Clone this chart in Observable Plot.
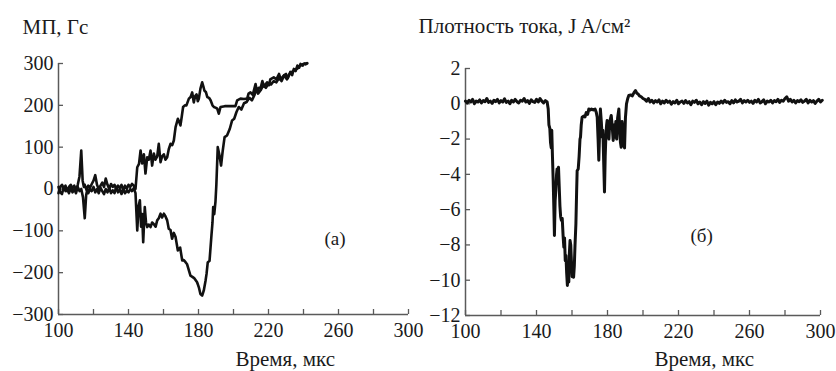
<!DOCTYPE html>
<html><head><meta charset="utf-8">
<script src="https://cdn.jsdelivr.net/npm/d3@7"></script>
<script src="https://cdn.jsdelivr.net/npm/@observablehq/plot@0.6"></script>
<style>
body{margin:0;background:#fff;}
#wrap{position:relative;width:836px;height:371px;overflow:hidden;background:#fff;}
#left{position:absolute;left:0;top:0;}
#right{position:absolute;left:416px;top:0;}
#wrap svg, #wrap svg text{font-family:"Liberation Serif","Times New Roman",serif !important;}
</style></head><body><div id="wrap"><div id="left"></div><div id="right"></div></div>
<script>
// ---- tick values ----
const timeTicks = [100,120,140,160,180,200,220,240,260,280,300];
const timeLabels = [100,140,180,220,260,300];
const magTicks = [-300,-200,-100,0,100,200,300];
const currentTicks = [-12,-10,-8,-6,-4,-2,0,2];

// ---- texts ----
const magTitle = "МП, Гс";
const currentTitle = "Плотность тока, J A/см²";
const timeTitle = "Время, мкс";
const magPanel = "(a)";
const currentPanel = "(б)";

// ---- magnetic field, upper trace [time µs, Gs] ----
const magUpper = [[100,-10],[101,5],[102,10],[103,0],[104,8],[105,-5],[106,5],[107,10],[108,2],[109,8],[110,-3],[111,10],[112,30],[113,92],[113.8,20],[114.5,5],[115,10],[116,-2],[117,8],[118,3],[119,12],[120,20],[121,33],[122,10],[123,0],[124,8],[125,15],[126,5],[127,25],[128,10],[129,0],[130,12],[131,5],[132,10],[133,0],[134,8],[135,2],[136,10],[137,-3],[138,8],[139,0],[140,10],[141,5],[142,12],[143,8],[144,0],
[145,52],[146,60],[146.9,92],[147.8,61],[148.8,83],[149.7,37],[150.7,76],[151.6,70],[152.6,92],[153.5,56],[154.5,85],[155.4,70],[156.4,78],[157.3,108],[158.3,64],[159.2,78],[160.2,83],[161.1,70],[162.1,76],[163,95],[164,108],[165,105],[165.9,116],[166.9,148],[168.2,168],[169,160],[169.7,152],[170.5,175],[171.2,196],[172.2,200],[173.1,200],[174.5,216],[175.5,220],[176.4,231],[177.3,207],[178.1,222],[178.9,226],[179.6,210],[180.2,216],[181.1,240],[182.1,255],[182.8,245],[183.4,235],[184.2,232],[185,220],[186,218],[186.9,212],[188,200],[188.8,196],[190,194],[190.7,192],[191.6,180],[192.6,196],[195,198],[198,198],[201.1,198],[202.1,212],[204,216],[206,215],[207.8,216],[208.6,228],[209.7,231],[211,225],[212.6,251],[213.5,232],[214.5,242],[215.4,240],[216.5,258],[217.5,245],[219.2,255],[220.3,248],[221,262],[223,267],[224.5,262],[226,275],[227,262],[228.7,271],[230,275],[231,265],[232.5,280],[233.5,272],[234.5,287],[235.5,282],[236.5,295],[237.5,290],[238.3,299],[239.5,295],[240.5,300],[241.3,298],[242.1,301]];

// ---- magnetic field, lower trace [time µs, Gs] ----
const magLower = [[100,5],[101,-8],[102,-12],[103,5],[104,-5],[105,0],[106,-10],[107,3],[108,-8],[109,0],[110,-10],[111,5],[112,-5],[113,0],[114,-20],[115,-70],[115.8,-15],[116.5,0],[117,-10],[118,0],[119,-5],[120,5],[121,-8],[122,0],[123,-10],[124,3],[125,-5],[126,-12],[127,0],[128,-8],[129,2],[130,-10],[131,-3],[132,-10],[133,5],[134,-8],[135,-2],[136,-12],[137,0],[138,-10],[139,-4],[140,-8],[141,0],[142,-5],[143,2],[144,-10],
[145,-99],[145.8,-40],[146.5,-27],[147.2,-90],[147.8,-60],[148.4,-127],[149.3,-43],[150,-80],[150.7,-91],[151.6,-85],[152.6,-91],[153.5,-80],[154.5,-84],[155.5,-90],[156.4,-75],[157.3,-70],[158.3,-59],[159.2,-68],[160.2,-59],[161.1,-65],[162.1,-75],[163,-95],[164,-98],[164.9,-119],[165.9,-105],[166.9,-115],[168.2,-147],[169.5,-140],[170.7,-171],[171.6,-170],[172.6,-175],[173.5,-180],[175.4,-207],[176.5,-210],[177.5,-213],[179.2,-223],[180.2,-235],[181.1,-251],[182.1,-255],[183,-243],[184,-220],[184.6,-203],[185.3,-175],[186.3,-172],[187.4,-111],[188,-80],[188.4,-43],[189,-60],[189.7,-30],[190.2,10],[191,100],[192,80],[192.9,56],[193.8,90],[194.9,124],[196.3,128],[197.9,144],[199.2,164],[200.4,168],[201.7,184],[203,196],[204.5,190],[206,205],[207.5,208],[209,218],[210.5,212],[212,225],[213,240],[214,228],[215.5,236],[217,248],[218.5,242],[220,252],[221.5,250],[223,258],[224.5,255],[226,265],[227.5,258],[229,272],[230.5,262],[232,275],[233.5,280],[235,285],[236.5,288],[238,295],[239.5,298],[241,300],[242.1,300]];

// ---- current density [time µs, A/cm²] ----
const current = [[100,0.15],[101,0.05],[102,0.2],[103,0.1],[104,0.25],[105,0],[106,0.15],[107,0.1],[108,0.22],[109,0.05],[110,0.18],[111,0.12],[112,0.3],[113,0.08],[114,0.15],[115,0.02],[116,0.2],[117,0.12],[118,0.25],[119,0.05],[120,0.18],[121,0.1],[122,0.28],[123,0.08],[124,0.15],[125,0],[126,0.2],[127,0.1],[128,0.25],[129,0.12],[130,0.05],[131,0.2],[132,0.15],[133,0.3],[134,0.1],[135,0.18],[136,0.02],[137,0.22],[138,0.12],[139,0.08],[140,0.25],[141,0.1],[142,0.3],[143,0.15],[144,0.05],[145,0.18],
[146,0.1],[146.6,-0.3],[147,-1.2],[147.5,-1.4],[147.9,-2.2],[148.3,-2.5],[148.6,-1.5],[149,-3],[149.4,-4.35],[149.8,-6],[150.1,-7.47],[150.5,-5.5],[150.9,-4.9],[151.3,-4],[151.6,-3.69],[152,-3.9],[152.4,-3.6],[152.8,-4.7],[153.2,-5.8],[153.6,-6.4],[154,-6.6],[154.5,-6.5],[155,-7.5],[155.4,-8.13],[155.8,-7.6],[156.2,-8.9],[156.6,-8.6],[157,-9.6],[157.4,-10.3],[157.8,-9.2],[158.2,-10.1],[158.5,-8.5],[158.9,-7.75],[159.3,-8],[159.7,-9],[160.1,-9.8],[160.5,-9.7],[160.9,-9.83],[161.3,-9.2],[161.7,-8],[162.2,-6.8],[162.6,-5],[162.9,-3.8],[163.5,-3.7],[164,-3],[164.5,-2],[164.8,-1.89],[165.2,-1.2],[165.7,-0.76],[166.5,-0.7],[167.3,-0.75],[168,-0.5],[168.8,-0.6],[169.5,-0.29],[170.3,-0.35],[171,-0.3],[172,-0.35],[173,-0.3],[173.7,-0.5],[174.2,-0.76],[174.7,-2],[175.1,-3.2],[175.5,-1.8],[176,-0.3],[176.5,-1],[177,-1.89],[177.4,-1.5],[177.9,-3.5],[178.3,-5],[178.7,-3],[179.1,-1.8],[179.5,-1.2],[179.8,-0.95],[180.3,-1.5],[180.8,-2],[181.3,-1],[182.1,-0.66],[182.6,-1.2],[183.2,-2.08],[183.7,-1.2],[184.2,-1.9],[184.7,-1],[185.2,-2],[185.7,-0.8],[186.4,-0.3],[186.9,-1.5],[187.3,-2.2],[187.7,-2.46],[188.2,-1],[188.7,-1.5],[189.1,-2.3],[189.6,-2.5],[190.1,-0.8],[190.7,0],[191.4,0.3],[192,0.47],[193,0.5],[194,0.45],[195,0.65],[195.8,0.75],[196.5,0.6],[197.3,0.55],[198,0.45],[199,0.4],[200,0.3],
[201,0.25],[202,0.15],[203,0.3],[204,0.1],[205,0.2],[206,0.05],[207,0.18],[208,0.1],[209,0.22],[210,0],[211,0.15],[212,0.05],[213,0.2],[214,0.08],[215,0.15],[216,-0.02],[217,0.12],[218,0.05],[219,0.2],[220,0],[221,0.1],[222,0.15],[223,0.02],[224,0.18],[225,0.05],[226,0.12],[227,-0.05],[228,0.15],[229,0.08],[230,0.2],[231,0],[232,0.1],[233,-0.05],[234,0.12],[235,0.02],[236,0.15],[237,-0.08],[238,0.08],[239,0],[240,0.12],[241,-0.05],[242,0.1],[243,0.02],[244,0.15],[245,0.05],[246,0.2],[247,0.08],[248,0.12],[249,0],[250,0.18],[251,0.05],[252,0.22],[253,0.1],[254,0.15],[255,0.25],[256,0.05],[257,0.18],[258,0.1],[259,0.2],[260,0.08],[261,0.15],[262,0.02],[263,0.2],[264,0.1],[265,0.25],[266,0.05],[267,0.12],[268,0.22],[269,0],[270,0.15],[271,0.1],[272,0.2],[273,0.05],[274,0.18],[275,0.12],[276,0.25],[277,0.08],[278,0.2],[279,0.15],[280,0.3],[281,0.4],[282,0.15],[283,0.25],[284,0.1],[285,0.2],[286,0.05],[287,0.18],[288,0.12],[289,0.22],[290,0.08],[291,0.15],[292,0.25],[293,0.05],[294,0.2],[295,0.1],[296,0.18],[297,0.02],[298,0.15],[299,0.25],[300,0.1],[301,0.2]];

const ink = "#1a1a1a", axisGray = "#5a5a5a";
const fmt = d => d < 0 ? "\u2212" + Math.abs(d) : String(d);
const font = "Liberation Serif";

function panel({data, lineWidth, yDomain, yTicks, ml, mr, mt, mb, width, title, titleDx, titleDy, xTitleDx, tag, tagX, tagY}) {
  const marks = [
    Plot.axisX(timeTicks, {tickSize: -5, stroke: axisGray, strokeWidth: 1.3, tickFormat: () => "", label: null}),
    Plot.axisX(timeLabels, {tickSize: 0, tickPadding: 8, fontSize: 20, fontFamily: font, fill: ink, tickFormat: fmt, label: null}),
    Plot.axisY(yTicks, {tickSize: -5, stroke: axisGray, strokeWidth: 1.3, tickFormat: () => "", label: null}),
    Plot.axisY(yTicks, {tickSize: 0, tickPadding: 5, fontSize: 20, fontFamily: font, fill: ink, tickFormat: fmt, label: null}),
    Plot.ruleX([100], {stroke: axisGray, strokeWidth: 1.5}),
    Plot.ruleY([yDomain[0]], {stroke: axisGray, strokeWidth: 1.5}),
    ...data.map(series => Plot.line(series, {x: d => d[0], y: d => d[1], stroke: "#111", strokeWidth: lineWidth, clip: false})),
    Plot.text([title], {frameAnchor: "top-left", text: d => d, textAnchor: "start", lineAnchor: "bottom", dx: titleDx, dy: titleDy, fontSize: 21, fontFamily: font, fill: ink}),
    Plot.text([timeTitle], {frameAnchor: "bottom-left", text: d => d, textAnchor: "start", lineAnchor: "bottom", dx: xTitleDx, dy: mb - 6, fontSize: 21, fontFamily: font, fill: ink}),
    Plot.text([tag], {x: tagX, y: tagY, text: d => d, fontSize: 19, fontFamily: font, fill: ink})
  ];
  return Plot.plot({
    width, height: 371,
    marginLeft: ml, marginRight: mr, marginTop: mt, marginBottom: mb,
    x: {domain: [100, 300]},
    y: {domain: yDomain},
    style: {fontFamily: font, background: "transparent", overflow: "visible", color: ink},
    marks
  });
}

document.getElementById("left").append(panel({
  data: [magUpper, magLower], lineWidth: 2.6, yDomain: [-300, 300], yTicks: magTicks,
  ml: 58, mr: 8, mt: 63, mb: 57, width: 416,
  title: magTitle, titleDx: -36, titleDy: -30, xTitleDx: 177,
  tag: magPanel, tagX: 258, tagY: -120
}));
document.getElementById("right").append(panel({
  data: [current], lineWidth: 3, yDomain: [-12, 2], yTicks: currentTicks,
  ml: 49, mr: 16, mt: 68, mb: 56, width: 420,
  title: currentTitle, titleDx: -47, titleDy: -36, xTitleDx: 189,
  tag: currentPanel, tagX: 233, tagY: -7.5
}));
</script></body></html>
